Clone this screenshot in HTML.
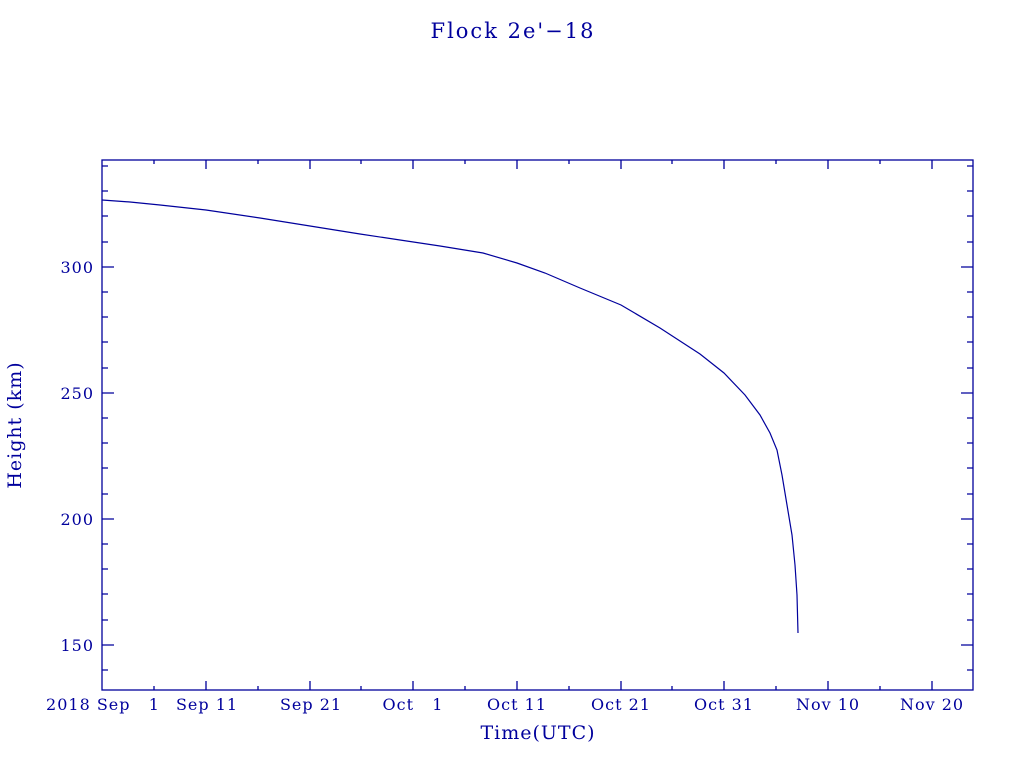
<!DOCTYPE html>
<html><head><style>body{margin:0;background:#fff}</style></head><body>
<svg width="1024" height="768" xmlns="http://www.w3.org/2000/svg" font-family="DejaVu Serif, Liberation Serif, serif" fill="#00009c">
<text x="513" y="38" font-size="21" letter-spacing="2" text-anchor="middle">Flock 2e'−18</text>
<g stroke="#00009c" stroke-width="1.3" fill="none">
<rect x="102" y="160" width="871" height="530"/>
<path d="M102,166h6M102,191h6M102,216h6M102,242h6M102,267h12M102,292h6M102,317h6M102,342h6M102,368h6M102,393h12M102,418h6M102,443h6M102,468h6M102,494h6M102,519h12M102,544h6M102,569h6M102,594h6M102,620h6M102,645h12M102,670h6"/>
<path d="M973,166h-6M973,191h-6M973,216h-6M973,242h-6M973,267h-12M973,292h-6M973,317h-6M973,342h-6M973,368h-6M973,393h-12M973,418h-6M973,443h-6M973,468h-6M973,494h-6M973,519h-12M973,544h-6M973,569h-6M973,594h-6M973,620h-6M973,645h-12M973,670h-6"/>
<path d="M154,690v-4M206,690v-9M258,690v-4M310,690v-9M361,690v-4M413,690v-9M465,690v-4M517,690v-9M569,690v-4M621,690v-9M672,690v-4M724,690v-9M776,690v-4M828,690v-9M880,690v-4M932,690v-9"/>
<path d="M154,160v4M206,160v9M258,160v4M310,160v9M361,160v4M413,160v9M465,160v4M517,160v9M569,160v4M621,160v9M672,160v4M724,160v9M776,160v4M828,160v9M880,160v4M932,160v9"/>
<path stroke-width="1.2" d="M102,200 L130,202 L160,205 L206,210 L260,218 L310,226 L360,234 L400,240 L440,246 L483,253 L517,263 L545,273 L580,288 L621,305 L660,328 L700,354 L724,373 L745,395 L760,415 L770,433 L777,450 L782,475 L787,505 L792,535 L795,565 L797,595 L798,633"/>
</g>
<g font-size="16" letter-spacing="1" text-anchor="end">
<text x="94" y="273">300</text><text x="94" y="399">250</text><text x="94" y="525">200</text><text x="94" y="651">150</text>
</g>
<g font-size="16" letter-spacing="1" text-anchor="middle">
<text x="103" y="710">2018 Sep&#160;&#160;&#160;1</text><text x="207" y="710">Sep 11</text><text x="311" y="710">Sep 21</text><text x="413" y="710">Oct&#160;&#160;&#160;1</text><text x="517" y="710">Oct 11</text><text x="621" y="710">Oct 21</text><text x="724" y="710">Oct 31</text><text x="828" y="710">Nov 10</text><text x="932" y="710">Nov 20</text>
</g>
<text x="538" y="739" font-size="19" letter-spacing="1" text-anchor="middle">Time(UTC)</text>
<text transform="translate(21,425) rotate(-90)" font-size="19" letter-spacing="1" text-anchor="middle">Height (km)</text>
</svg>
</body></html>
